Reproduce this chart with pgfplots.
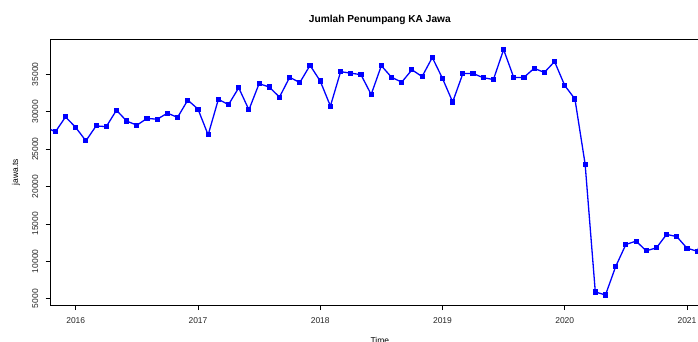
\documentclass[border=0pt]{standalone}
\usepackage{fontspec}
\setmainfont{Liberation Sans}
\usepackage{pgfplots}
\pgfplotsset{compat=1.18}
\begin{document}
\begin{tikzpicture}
\path[use as bounding box] (-50.7bp,-37bp) rectangle (647.3bp,305bp);
\begin{axis}[
  at={(0,0)}, anchor=south west,
  scale only axis, width=658.3bp, height=265.7bp,
  xmin=2015.7954, xmax=2021.18,
  ymin=4158, ymax=39679,
  xtick={2016,2017,2018,2019,2020,2021},
  ytick={5000,10000,15000,20000,25000,30000,35000},
  xticklabels={2016,2017,2018,2019,2020,2021},
  yticklabels={5000,10000,15000,20000,25000,30000,35000},
  tick align=outside, major tick length=5bp,
  tick style={black, line width=0.6bp},
  xtick pos=bottom, ytick pos=left,
  axis line style={black, line width=0.75bp},
  tick label style={font=\fontsize{8.5}{10}\selectfont, text=black!85},
  xticklabel style={anchor=base, yshift=-13.5bp},
  yticklabel style={xshift=-4bp, rotate=90, anchor=south},
  title={Jumlah Penumpang KA Jawa},
  title style={font=\bfseries\fontsize{10.2}{12}\selectfont, at={(0.5,1)}, anchor=base, yshift=11.3bp},
  xlabel={Time},
  xlabel style={font=\fontsize{8.5}{10}\selectfont, at={(axis description cs:0.5,0)}, anchor=base, yshift=-38bp},
  ylabel={jawa.ts},
  ylabel style={font=\fontsize{8.5}{10}\selectfont, at={(axis description cs:0,0.5)}, anchor=center, yshift=34.7bp},
  clip mode=individual,
  scaled ticks=false,
  /pgf/number format/assume math mode=true,
]
\addplot[color={rgb,255:red,0;green,0;blue,255}, line width=1.3bp, mark=square*, mark size=1.9bp, mark options={solid}] coordinates {
(2015.75,28000) (2015.8333,27300) (2015.9167,29300)
(2016.0,27900) (2016.0833,26100) (2016.1667,28100) (2016.25,28000)
(2016.3333,30200) (2016.4167,28750) (2016.5,28200) (2016.5833,29100)
(2016.6667,29000) (2016.75,29800) (2016.8333,29250) (2016.9167,31550)
(2017.0,30350) (2017.0833,26900) (2017.1667,31650) (2017.25,30950)
(2017.3333,33200) (2017.4167,30250) (2017.5,33750) (2017.5833,33300)
(2017.6667,31950) (2017.75,34600) (2017.8333,33900) (2017.9167,36200)
(2018.0,34100) (2018.0833,30750) (2018.1667,35350) (2018.25,35150)
(2018.3333,34950) (2018.4167,32300) (2018.5,36150) (2018.5833,34600)
(2018.6667,33950) (2018.75,35600) (2018.8333,34700) (2018.9167,37250)
(2019.0,34450) (2019.0833,31300) (2019.1667,35100) (2019.25,35100)
(2019.3333,34550) (2019.4167,34300) (2019.5,38300) (2019.5833,34550)
(2019.6667,34600) (2019.75,35800) (2019.8333,35250) (2019.9167,36700)
(2020.0,33500) (2020.0833,31700) (2020.1667,23000) (2020.25,5900)
(2020.3333,5500) (2020.4167,9300) (2020.5,12250) (2020.5833,12700)
(2020.6667,11400) (2020.75,11800) (2020.8333,13600) (2020.9167,13300)
(2021.0,11750) (2021.0833,11350) (2021.1667,14500)
};
\end{axis}
\end{tikzpicture}
\end{document}
